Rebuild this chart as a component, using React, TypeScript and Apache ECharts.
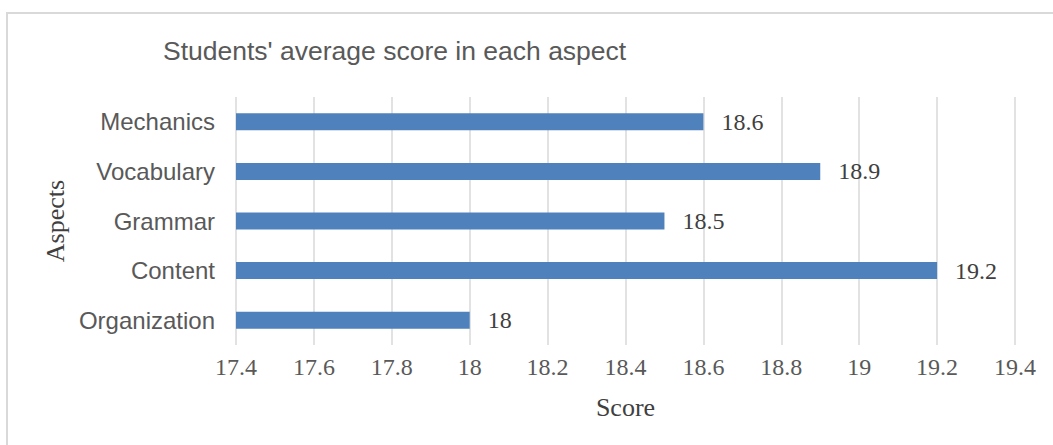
import React, { useEffect, useRef } from "react";
import * as echarts from "echarts";

const categories = ["Organization", "Content", "Grammar", "Vocabulary", "Mechanics"];
const scores = [18, 19.2, 18.5, 18.9, 18.6];
const titleText = "Students' average score in each aspect";
const xAxisName = "Score";
const yAxisName = "Aspects";

export default function App() {
  const ref = useRef<HTMLDivElement>(null);
  useEffect(() => {
    if (!ref.current) return;
    const chart = echarts.init(ref.current, null, { renderer: "svg" });
    chart.setOption({
      animation: false,
      backgroundColor: "#ffffff",
      title: {
        text: titleText,
        left: 158,
        top: 32,
        textStyle: {
          fontFamily: "Liberation Sans, Arial, sans-serif",
          fontSize: 26.5,
          fontWeight: "normal",
          color: "#595959",
        },
      },
      graphic: [
        {
          type: "rect",
          shape: { x: 7, y: 13, width: 1100, height: 500 },
          style: { fill: "none", stroke: "#d9d9d9", lineWidth: 2 },
          z: 0,
        },
      ],
      grid: { left: 236, right: 38, top: 97, bottom: 100 },
      xAxis: {
        type: "value",
        min: 17.4,
        max: 19.4,
        interval: 0.2,
        name: xAxisName,
        nameLocation: "middle",
        nameGap: 49,
        nameTextStyle: {
          fontFamily: "Liberation Serif, Times New Roman, serif",
          fontSize: 26,
          color: "#404040",
        },
        axisLine: { show: false },
        axisTick: { show: false },
        axisLabel: {
          margin: 10,
          fontFamily: "Liberation Serif, Times New Roman, serif",
          fontSize: 24,
          color: "#595959",
        },
        splitLine: { show: true, lineStyle: { color: "#d9d9d9", width: 1.5 } },
      },
      yAxis: {
        type: "category",
        data: categories,
        name: yAxisName,
        nameLocation: "middle",
        nameRotate: 90,
        nameGap: 164,
        nameTextStyle: {
          fontFamily: "Liberation Serif, Times New Roman, serif",
          fontSize: 26,
          color: "#404040",
        },
        axisLine: { show: false },
        axisTick: { show: false },
        axisLabel: {
          margin: 21,
          fontFamily: "Liberation Sans, Arial, sans-serif",
          fontSize: 24,
          color: "#595959",
        },
        splitLine: { show: false },
      },
      series: [
        {
          type: "bar",
          data: scores,
          barWidth: 17,
          itemStyle: { color: "#4F81BD" },
          label: {
            show: true,
            position: "right",
            distance: 18,
            fontFamily: "Liberation Serif, Times New Roman, serif",
            fontSize: 24,
            color: "#404040",
          },
        },
      ],
    });
    return () => chart.dispose();
  }, []);
  return (
    <div
      ref={ref}
      style={{ position: "fixed", left: 0, top: 0, width: 1053, height: 445 }}
    />
  );
}
